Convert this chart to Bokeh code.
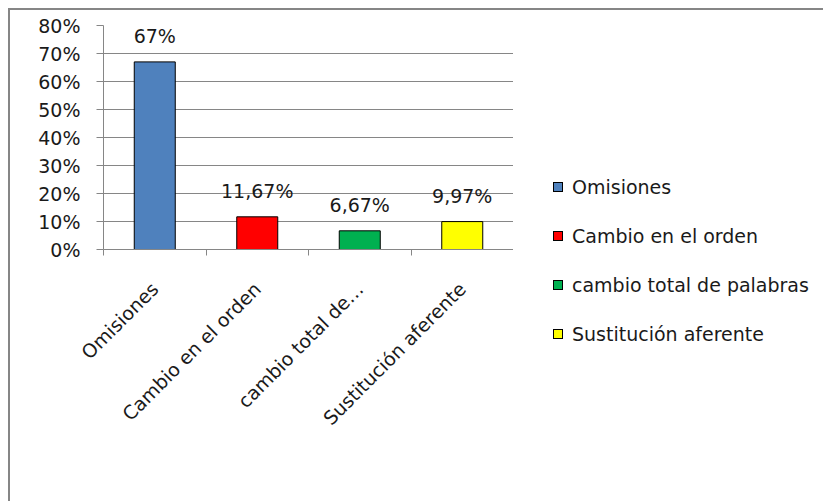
import math
from bokeh.plotting import figure
from bokeh.layouts import row
from bokeh.models import (ColumnDataSource, FixedTicker, NumeralTickFormatter,
                          LabelSet, Range1d, Div)
from bokeh.core.properties import value
from bokeh.embed import file_html
from bokeh.resources import INLINE

categories = ["Omisiones", "Cambio en el orden", "cambio total de palabras", "Sustitución aferente"]
tick_labels = ["Omisiones", "Cambio en el orden", "cambio total de…", "Sustitución aferente"]
values = [0.67, 0.1167, 0.0667, 0.0997]
value_labels = ["67%", "11,67%", "6,67%", "9,97%"]
colors = ["#4F81BD", "#FF0000", "#00B050", "#FFFF00"]
y_ticks = [0.0, 0.1, 0.2, 0.3, 0.4, 0.5, 0.6, 0.7, 0.8]

FONT = "DejaVu Sans"
FS = "19px"
GRAY = "#868686"
TXT = "#1a1a1a"

W, H = 823, 501
LEFT, TOP, FW, FH = 103, 25, 410, 224
W1 = LEFT + FW          # chart figure width
W2 = W - W1             # legend panel width

n = len(categories)
xs = [i + 0.5 for i in range(n)]
src = ColumnDataSource(dict(x=xs, value=values, label=value_labels, color=colors, cat=categories))

p = figure(width=W1, height=H, output_backend="svg", toolbar_location=None,
           x_range=Range1d(0, n), y_range=Range1d(0, y_ticks[-1]),
           min_border_left=LEFT, min_border_right=0,
           min_border_top=TOP, min_border_bottom=H - TOP - FH)
p.styles = {
    "background-color": "white",
    "background-image": f"linear-gradient({GRAY},{GRAY}), linear-gradient({GRAY},{GRAY})",
    "background-size": "calc(100% - 8px) 2px, 2px calc(100% - 8px)",
    "background-position": "8px 8px, 8px 8px",
    "background-repeat": "no-repeat",
}
p.border_fill_color = None
p.outline_line_color = None
p.background_fill_color = "white"

r = p.vbar(x="x", top="value", width=0.4, fill_color="color", line_color="black",
           line_width=1, source=src)

labels = LabelSet(x="x", y="value", text="label", y_offset=26, source=src,
                  text_align="center", text_baseline="middle",
                  text_font=value(FONT), text_font_size=FS, text_color=TXT)
p.add_layout(labels)

# x axis: labels at category centres, ticks at category boundaries
xa = p.xaxis[0]
xa.ticker = FixedTicker(ticks=xs, minor_ticks=list(range(n + 1)))
xa.major_label_overrides = {x: t for x, t in zip(xs, tick_labels)}
xa.major_label_orientation = math.pi / 4
xa.major_tick_out = 0
xa.major_tick_in = 0
xa.minor_tick_out = 6
xa.minor_tick_in = 0
xa.minor_tick_line_color = GRAY
xa.axis_line_color = GRAY
xa.major_label_standoff = 30
xa.major_label_text_font = FONT
xa.major_label_text_font_size = FS
xa.major_label_text_color = TXT
p.xgrid.visible = False

# y axis
ya = p.yaxis[0]
ya.ticker = FixedTicker(ticks=y_ticks)
ya.formatter = NumeralTickFormatter(format="0%")
ya.major_tick_out = 7
ya.major_tick_in = 0
ya.minor_tick_line_color = None
ya.major_tick_line_color = GRAY
ya.axis_line_color = GRAY
ya.major_label_standoff = 16
ya.major_label_text_font = FONT
ya.major_label_text_font_size = FS
ya.major_label_text_color = TXT
p.ygrid.ticker = FixedTicker(ticks=y_ticks)
p.ygrid.grid_line_color = GRAY

# legend (HTML panel to the right of the chart)
LEG_LEFT, LEG_TOP, LEG_STEP, ROW_H = 40, 175, 49, 24
items_html = ""
for i, (cat, col) in enumerate(zip(categories, colors)):
    items_html += (
        f'<div style="position:absolute;left:{LEG_LEFT}px;top:{LEG_TOP + i * LEG_STEP}px;'
        f'height:{ROW_H}px;display:flex;align-items:center;white-space:nowrap;">'
        f'<span style="display:inline-block;box-sizing:border-box;width:10px;height:10px;'
        f'border:1px solid #000;background:{col};margin-right:9px;"></span>'
        f'<span>{cat}</span></div>'
    )
legend_html = (
    f'<div style="position:relative;width:{W2}px;height:{H}px;font-family:\'{FONT}\';'
    f'font-size:{FS};color:{TXT};line-height:{ROW_H}px;">{items_html}</div>'
)
leg = Div(text=legend_html, width=W2, height=H, margin=0)
leg.styles = {
    "background-color": "white",
    "background-image": f"linear-gradient({GRAY},{GRAY})",
    "background-size": "100% 2px",
    "background-position": "0px 8px",
    "background-repeat": "no-repeat",
}

layout = row(p, leg, spacing=0)
open("out.html", "w").write(file_html(layout, INLINE))
